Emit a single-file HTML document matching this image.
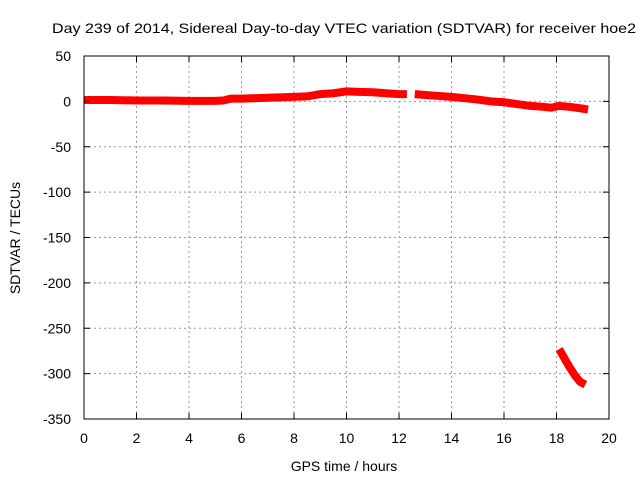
<!DOCTYPE html>
<html><head><meta charset="utf-8"><style>
body{margin:0;background:#fff;}
svg{display:block;font-family:"Liberation Sans",sans-serif;}
</style></head><body>
<svg id="chart" width="640" height="480">
<text x="52" y="33" font-size="14" textLength="584" lengthAdjust="spacingAndGlyphs">Day 239 of 2014, Sidereal Day-to-day VTEC variation (SDTVAR) for receiver hoe2</text>
<g id="grid"></g>
<g id="series"></g>
<rect x="84" y="56" width="525" height="363" fill="none" stroke="#000" stroke-width="1"/>
<g id="ticks"></g>
<text x="344" y="471" font-size="14" text-anchor="middle">GPS time / hours</text>
<text transform="translate(20,238) rotate(-90)" font-size="14" text-anchor="middle">SDTVAR / TECUs</text>
</svg>
<script>
const xTicks=[0,2,4,6,8,10,12,14,16,18,20];
const yTicks=[50,0,-50,-100,-150,-200,-250,-300,-350];
const seg1Hours=[0,1,2,3,4,5,5.3,5.6,6,7,8,8.5,9,9.5,10,10.5,11,11.5,12,12.3];
const seg1Values=[1.5,1.5,1,1,0.5,0.5,1,3,3,4,5,5.5,8,9,11,10.5,10,9,8,8];
const seg2Hours=[12.6,13,13.5,14,14.5,15,15.5,16,16.5,17,17.5,17.8,18.1,18.5,19,19.2];
const seg2Values=[8,7,6,5,3.5,2,0,-1,-3,-5,-6,-7,-5,-6,-8,-9];
const seg3Hours=[18.1,18.3,18.5,18.7,18.9,19.1];
const seg3Vals=[-273,-283,-293,-302,-309,-312];
const X=h=>84+h*525/20, Y=v=>56+(50-v)*363/400;
const NS="http://www.w3.org/2000/svg";
function mk(t,a,p){const e=document.createElementNS(NS,t);for(const k in a)e.setAttribute(k,a[k]);p.appendChild(e);return e;}
const grid=document.getElementById('grid'),ticks=document.getElementById('ticks'),series=document.getElementById('series');
xTicks.forEach(t=>{const x=X(t);
 if(t>0&&t<20){const g=mk('line',{x1:x,x2:x,y1:56,y2:419,stroke:'#999','stroke-dasharray':'2,3'},grid);
 }
 const k=mk('path',{d:`M${x},419v-6M${x},56v6`,stroke:'#000'},ticks);
 
 const l=mk('text',{x:x,y:443,'font-size':14,'text-anchor':'middle'},ticks);l.textContent=t;
 });
yTicks.forEach(t=>{const y=Y(t);
 if(t<50&&t>-350){const g=mk('line',{x1:84,x2:609,y1:y,y2:y,stroke:'#999','stroke-dasharray':'2,3'},grid);
 }
 const k=mk('path',{d:`M84,${y}h6M609,${y}h-6`,stroke:'#000'},ticks);
 
 const l=mk('text',{x:71,y:y+5,'font-size':14,'text-anchor':'end'},ticks);l.textContent=t;
 });
[[seg1Hours,seg1Values],[seg2Hours,seg2Values],[seg3Hours,seg3Vals]].forEach(([hs,vs])=>{
 const p=mk('polyline',{points:hs.map((h,i)=>X(h)+','+Y(vs[i])).join(' '),fill:'none',stroke:'#f00','stroke-width':8,'stroke-linejoin':'miter','stroke-linecap':'butt'},series);
 });
</script>
</body></html>
